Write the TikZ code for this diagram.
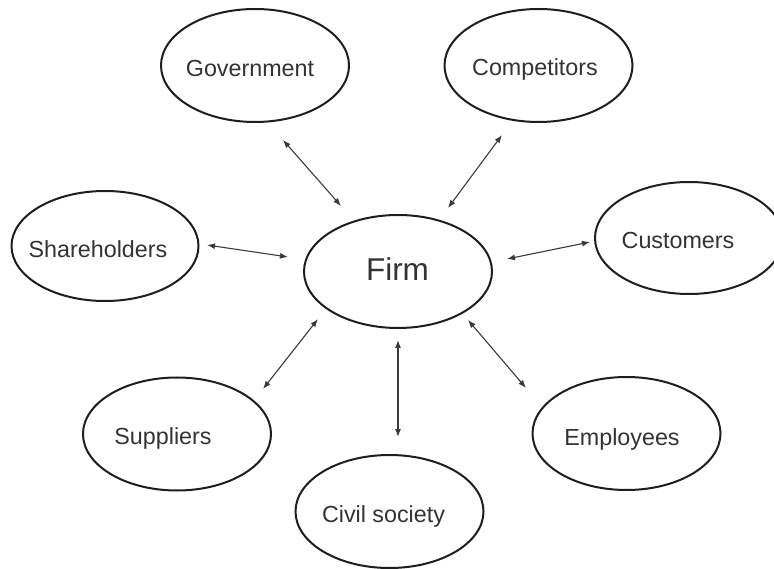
\documentclass[tikz,border=0pt]{standalone}
\usepackage{fontspec}
\setmainfont{Liberation Sans}
\usetikzlibrary{shapes.geometric,arrows.meta}
\definecolor{txtgray}{HTML}{333333}
\definecolor{linegray}{HTML}{1E1E1E}
\definecolor{arrgray}{HTML}{3A3A3A}
\begin{document}
\begin{tikzpicture}[x=1pt,y=-1pt,
  oval/.style={ellipse,draw=linegray,line width=2pt,minimum width=188pt,minimum height=113pt,inner sep=0pt},
  lbl/.style={inner sep=0pt,text=txtgray,font=\fontsize{23.3}{26}\selectfont},
  biarrow/.style={draw=arrgray,line width=1.1pt,{Latex[length=8pt,width=6pt]}-{Latex[length=8pt,width=6pt]}}]
\useasboundingbox (0,0) rectangle (774,569);
\clip (0,0) rectangle (774,569);
% ellipses
\node[oval] (gov)  at (255,65.5) {};
\node[oval] (comp) at (538.5,65.5) {};
\node[oval,minimum width=187pt,minimum height=110pt] (share) at (105,246) {};
\node[oval,minimum height=112pt] (cust) at (689,238) {};
\node[oval] (firm) at (398,271.5) {};
\node[oval] (supp) at (177,434) {};
\node[oval] (empl) at (626.5,433.5) {};
\node[oval] (civil) at (389.5,511.5) {};
% labels
\node[lbl] (govt)   at (250,68) {Government};
\node[lbl] (compt)  at (535,69) {Competitors};
\node[lbl] (sharet) at (98,249) {Shareholders};
\node[lbl] (custt)  at (678,240) {Customers};
\node[lbl,font=\fontsize{31.5}{34}\selectfont] (firmt) at (397.5,269) {Firm};
\node[lbl] (suppt)  at (163,438) {Suppliers};
\node[lbl] (emplt)  at (622,439) {Employees};
\node[lbl] (civilt) at (383.5,516) {Civil society};
% arrow end points
\coordinate (gov-a)   at (283,140);
\coordinate (firm-g)  at (341,206);
\coordinate (comp-a)  at (502,135);
\coordinate (firm-c)  at (448,208);
\coordinate (share-a) at (207,245);
\coordinate (firm-s)  at (288,257);
\coordinate (cust-a)  at (590,242);
\coordinate (firm-u)  at (507,259);
\coordinate (supp-a)  at (263,389);
\coordinate (firm-p)  at (318,319);
\coordinate (civil-a) at (398,437);
\coordinate (firm-v)  at (398,340);
\coordinate (empl-a)  at (526,388);
\coordinate (firm-e)  at (468,320);
% connectors
\draw[biarrow] (gov-a) -- (firm-g);
\draw[biarrow] (comp-a) -- (firm-c);
\draw[biarrow] (share-a) -- (firm-s);
\draw[biarrow] (cust-a) -- (firm-u);
\draw[biarrow] (supp-a) -- (firm-p);
\draw[biarrow] (civil-a) -- (firm-v);
\draw[biarrow] (empl-a) -- (firm-e);
\end{tikzpicture}
\end{document}
